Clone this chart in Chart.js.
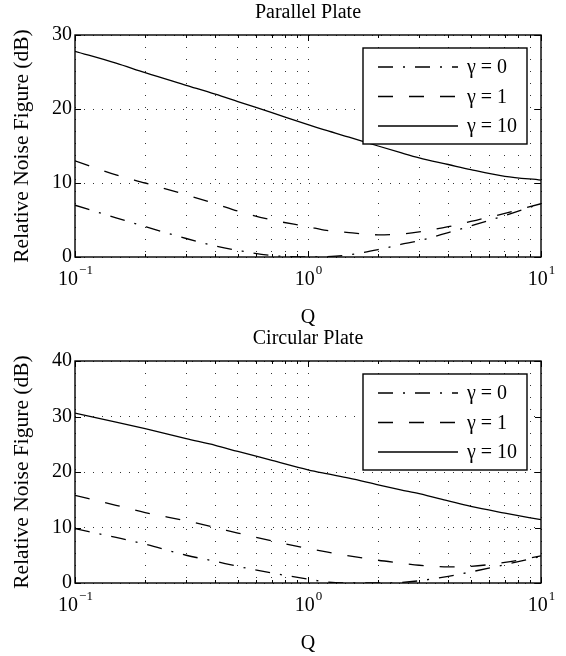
<!DOCTYPE html>
<html>
<head>
<meta charset="utf-8">
<script src="https://cdn.jsdelivr.net/npm/chart.js@4.4.1/dist/chart.umd.min.js"></script>
<style>
  html, body { margin: 0; padding: 0; background: #fff; }
  .plot { position: absolute; left: 0; width: 566px; height: 330px; }
</style>
</head>
<body>
<div class="plot" style="top:0"><canvas id="parallelChart" width="566" height="330"></canvas></div>
<div class="plot" style="top:326px"><canvas id="circularChart" width="566" height="330"></canvas></div>
<script>
// Relative noise figure vs Q, two plate geometries

const qValues = [0.1, 0.15, 0.2, 0.3, 0.4, 0.5, 0.7, 1, 1.2, 1.5, 2, 2.5, 3, 4, 5, 7, 10];
const qTicks = [0.1, 0.2, 0.3, 0.4, 0.5, 0.6, 0.7, 0.8, 0.9, 1, 2, 3, 4, 5, 6, 7, 8, 9, 10];
const qDecades = [0.1, 1, 10];
const decadeExponents = ['\u22121', '0', '1'];
const seriesLabels = ['\u03b3 = 0', '\u03b3 = 1', '\u03b3 = 10'];
const seriesDashes = [[15, 10, 2, 10], [15, 16], []];

const parallelGamma0 = [7.0, 5.3, 4.1, 2.5, 1.5, 0.9, 0.2, 0.0, 0.05, 0.3, 1.0, 1.7, 2.2, 3.3, 4.2, 5.6, 7.2];
const parallelGamma1 = [13.0, 11.1, 10.0, 8.4, 7.2, 6.2, 5.0, 4.1, 3.6, 3.3, 3.0, 3.1, 3.4, 4.1, 4.8, 5.9, 7.2];
const parallelGamma10 = [27.8, 26.2, 24.9, 23.2, 22.0, 21.0, 19.5, 17.9, 17.1, 16.2, 15.0, 14.1, 13.4, 12.5, 11.8, 10.9, 10.4];

const circularGamma0 = [9.8, 8.2, 7.0, 5.0, 3.9, 3.0, 1.8, 0.7, 0.2, 0.0, 0.0, 0.1, 0.4, 1.2, 2.0, 3.3, 4.8];
const circularGamma1 = [15.8, 14.0, 12.7, 11.2, 10.0, 9.0, 7.6, 6.2, 5.6, 4.9, 4.1, 3.6, 3.2, 2.9, 3.0, 3.7, 4.9];
const circularGamma10 = [30.6, 29.0, 27.8, 26.0, 24.8, 23.7, 22.1, 20.4, 19.7, 18.9, 17.7, 16.8, 16.1, 14.8, 13.8, 12.6, 11.4];

const FONT = "'Liberation Serif', 'Times New Roman', serif";

Chart.defaults.font.family = FONT;
Chart.defaults.color = '#000';

// box round the plot, inward ticks and 10^n labels
const matlabBox = {
  id: 'matlabBox',
  afterDatasetsDraw(chart) {
    const { ctx, chartArea: a, scales } = chart;
    ctx.save();
    ctx.setLineDash([]);
    ctx.strokeStyle = '#000';
    ctx.lineWidth = 1;
    ctx.beginPath();
    scales.x.ticks.forEach((t) => {
      const px = Math.round(scales.x.getPixelForValue(t.value)) + 0.5;
      const len = qDecades.includes(t.value) ? 6 : 3;
      ctx.moveTo(px, a.bottom);
      ctx.lineTo(px, a.bottom - len);
      ctx.moveTo(px, a.top);
      ctx.lineTo(px, a.top + len);
    });
    scales.y.ticks.forEach((t) => {
      const py = Math.round(scales.y.getPixelForValue(t.value)) + 0.5;
      ctx.moveTo(a.left, py);
      ctx.lineTo(a.left + 6, py);
      ctx.moveTo(a.right, py);
      ctx.lineTo(a.right - 6, py);
    });
    ctx.stroke();

    ctx.lineWidth = 1.4;
    ctx.strokeRect(a.left, a.top, a.right - a.left, a.bottom - a.top);

    ctx.fillStyle = '#000';
    ctx.textBaseline = 'alphabetic';
    ctx.textAlign = 'left';
    qDecades.forEach((q, i) => {
      const px = scales.x.getPixelForValue(q);
      ctx.font = '20px ' + FONT;
      const baseW = ctx.measureText('10').width;
      ctx.font = '13px ' + FONT;
      const expW = ctx.measureText(decadeExponents[i]).width;
      const x0 = px - (baseW + expW) / 2;
      ctx.font = '20px ' + FONT;
      ctx.fillText('10', x0, a.bottom + 28);
      ctx.font = '13px ' + FONT;
      ctx.fillText(decadeExponents[i], x0 + baseW + 1, a.bottom + 17);
    });
    ctx.restore();
  },
};

const boxedLegend = {
  id: 'boxedLegend',
  afterDraw(chart) {
    const { ctx, chartArea: a } = chart;
    const left = a.right - 178;
    const top = a.top + 13;
    ctx.save();
    ctx.fillStyle = '#fff';
    ctx.fillRect(left, top, 164, 96);
    ctx.strokeStyle = '#000';
    ctx.lineWidth = 1.4;
    ctx.setLineDash([]);
    ctx.strokeRect(left, top, 164, 96);
    chart.data.datasets.forEach((ds, i) => {
      const y = top + 19 + i * 29.5;
      ctx.beginPath();
      ctx.lineWidth = ds.borderWidth;
      ctx.setLineDash(ds.borderDash);
      ctx.moveTo(left + 15, y);
      ctx.lineTo(left + 95, y);
      ctx.stroke();
      ctx.setLineDash([]);
      ctx.fillStyle = '#000';
      ctx.font = '20px ' + FONT;
      ctx.textBaseline = 'middle';
      ctx.fillText(ds.label, left + 104, y + 1);
    });
    ctx.restore();
  },
};

const makeDatasets = (seriesValues) =>
  seriesValues.map((values, i) => ({
    label: seriesLabels[i],
    data: qValues.map((q, j) => ({ x: q, y: values[j] })),
    borderColor: '#000',
    borderWidth: 1.3,
    borderDash: seriesDashes[i],
    pointRadius: 0,
    cubicInterpolationMode: 'monotone',
    fill: false,
  }));

const drawNoiseChart = (canvasId, title, seriesValues, yMax) => {
  const ctx = document.getElementById(canvasId);
  return new Chart(ctx, {
    type: 'line',
    data: { datasets: makeDatasets(seriesValues) },
    options: {
      responsive: false,
      animation: false,
      layout: { padding: { left: 0, right: 25, top: 0, bottom: 0 } },
      plugins: {
        legend: { display: false },
        tooltip: { enabled: false },
        title: {
          display: true,
          text: title,
          fullSize: false,
          color: '#000',
          font: { size: 20, weight: 'normal' },
          padding: { top: 1, bottom: 10 },
        },
      },
      scales: {
        x: {
          type: 'logarithmic',
          min: 0.1,
          max: 10,
          afterBuildTicks: (scale) => {
            scale.ticks = qTicks.map((v) => ({ value: v }));
          },
          afterFit: (scale) => {
            scale.height = 73;
          },
          ticks: { autoSkip: false, callback: () => '' },
          grid: { color: '#333', lineWidth: 1, drawTicks: false },
          border: { display: false, dash: [1, 11] },
          title: {
            display: true,
            text: 'Q',
            color: '#000',
            font: { size: 20 },
            padding: { top: 6, bottom: 0 },
          },
        },
        y: {
          min: 0,
          max: yMax,
          afterFit: (scale) => {
            scale.width = 75;
          },
          ticks: { stepSize: 10, padding: 3, color: '#000', font: { size: 20 } },
          grid: { color: '#333', lineWidth: 1, drawTicks: false },
          border: { display: false, dash: [1, 8] },
          title: {
            display: true,
            text: 'Relative Noise Figure (dB)',
            color: '#000',
            font: { size: 21.5 },
            padding: { top: 9, bottom: 0 },
          },
        },
      },
    },
    plugins: [matlabBox, boxedLegend],
  });
};

drawNoiseChart('parallelChart', 'Parallel Plate', [parallelGamma0, parallelGamma1, parallelGamma10], 30);
drawNoiseChart('circularChart', 'Circular Plate', [circularGamma0, circularGamma1, circularGamma10], 40);
</script>
</body>
</html>
